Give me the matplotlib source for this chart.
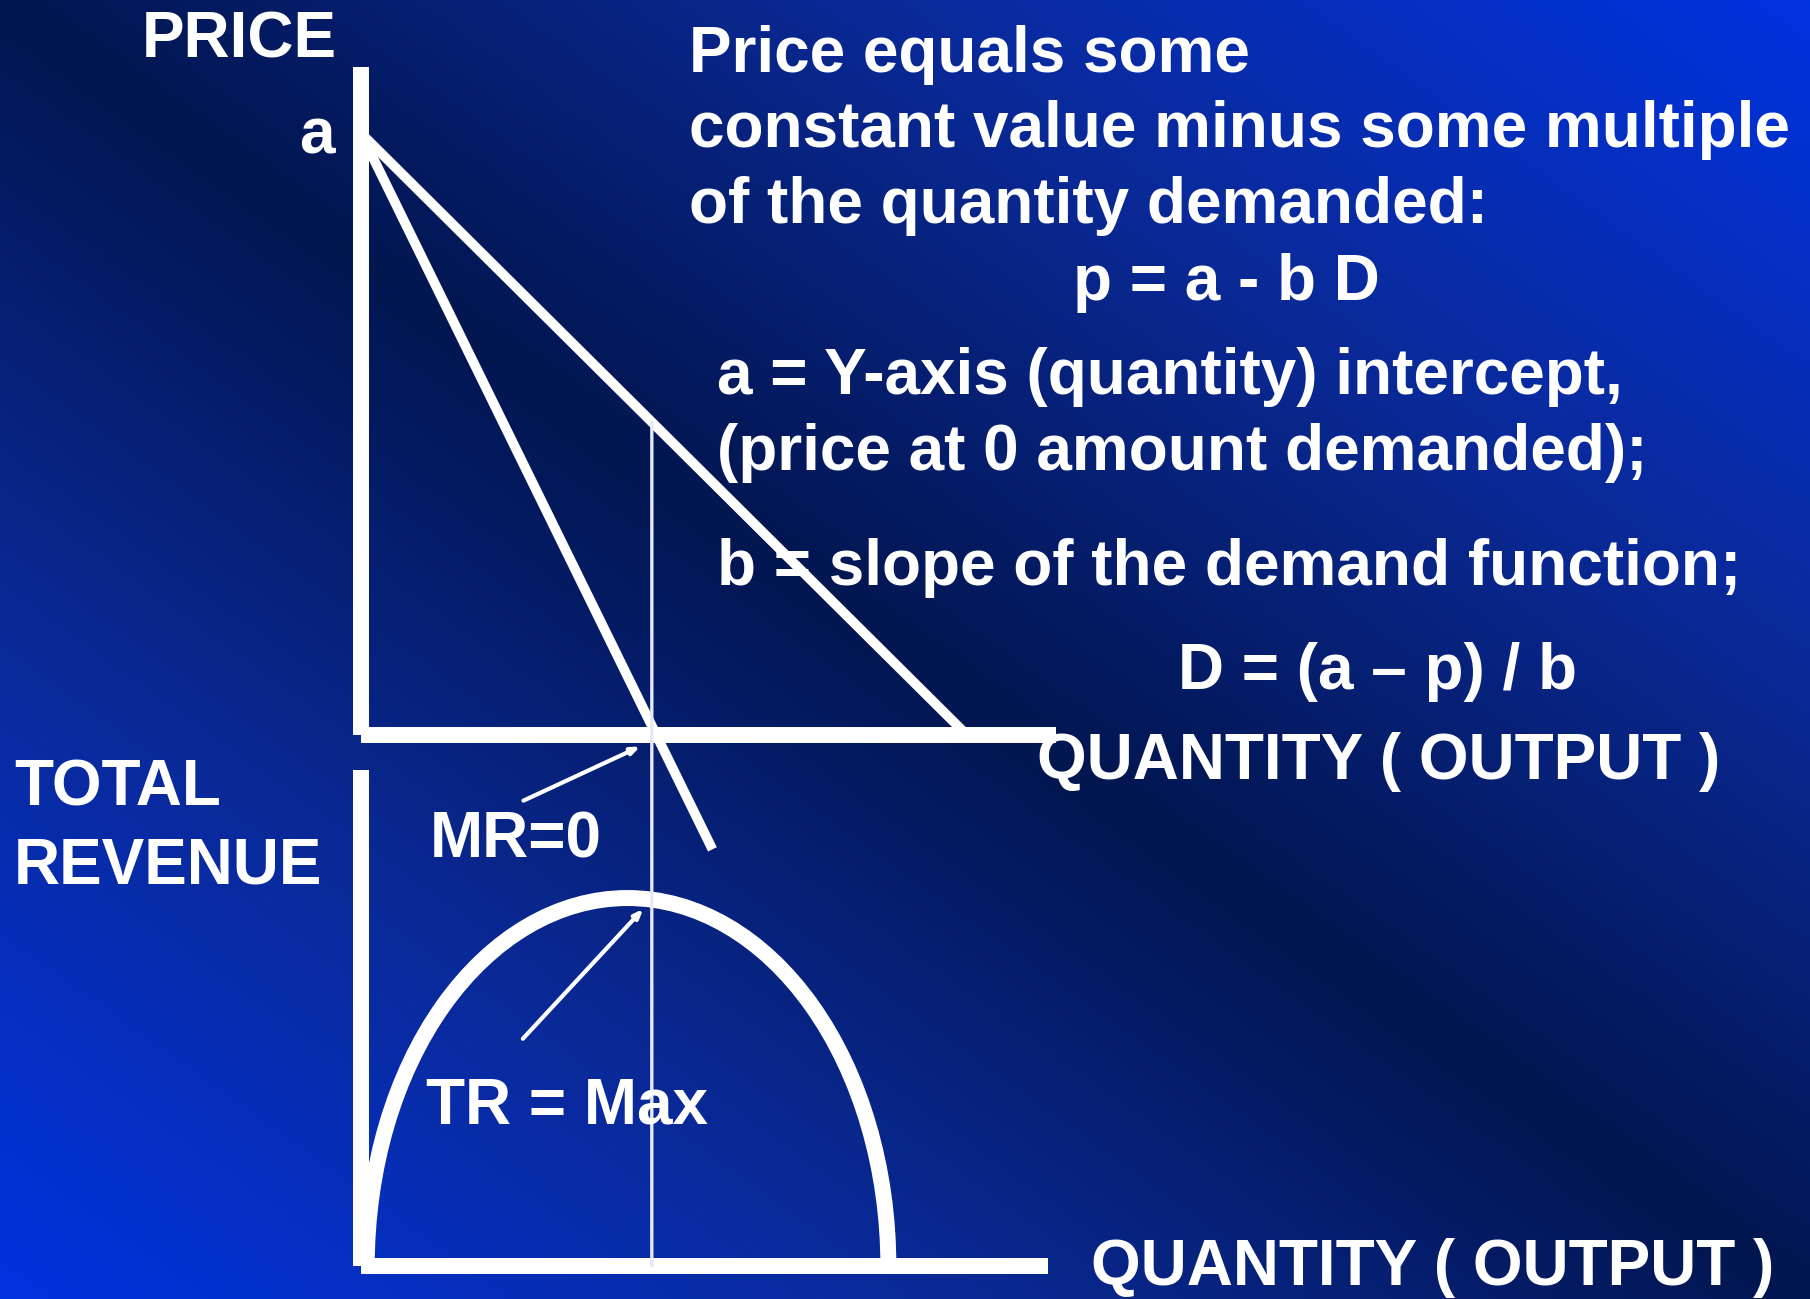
import numpy as np
import matplotlib
matplotlib.use("Agg")
import matplotlib.pyplot as plt
from matplotlib.colors import LinearSegmentedColormap
from matplotlib.patches import Arc, ConnectionPatch

W, H = 1810, 1299

# demand curve p = a - b D  (a = 10, b = 1)
demand_q = [0, 10]
demand_p = [10, 0]
# marginal revenue line, as drawn
mr_q = [0, 5.8]
mr_p = [10, -1.9]
# output where MR = 0 and the price there
q_star = 4.8
p_star = 5.2
# total revenue hump (half ellipse): centre, width, peak
tr_center = 4.4
tr_width = 8.61
tr_max = 25

# arrow ends (tail -> head)
mr_arrow_q = [2.64, 4.65]
mr_arrow_p = [-1.11, -0.17]
tr_arrow_q = [2.64, 4.69]
tr_arrow_tr = [15.3, 24.4]

right_lines = ["Price equals some",
               "constant value minus some multiple",
               "of the quantity demanded:"]
param_lines = ["a = Y-axis (quantity) intercept,",
               "(price at 0 amount demanded);"]


def px(x, y):
    return x / W, 1 - y / H


def box(l, t, r, b):
    return [l / W, 1 - b / H, (r - l) / W, (b - t) / H]


fig = plt.figure(figsize=(W / 100, H / 100), dpi=100)

# diagonal background gradient, dark along the main diagonal
bg = fig.add_axes([0, 0, 1, 1])
u, v = np.meshgrid(np.linspace(0, 1, 400), np.linspace(0, 1, 300))
t = np.abs(u - v)
cmap = LinearSegmentedColormap.from_list("bg", ["#021650", "#0a2a9a", "#0033e0"])
bg.imshow(t, cmap=cmap, extent=(0, 1, 0, 1), aspect="auto", origin="upper")
bg.axis("off")

wht = "white"


def style(ax):
    ax.patch.set_alpha(0)
    for s in ["top", "right"]:
        ax.spines[s].set_visible(False)
    for s in ["left", "bottom"]:
        ax.spines[s].set_color(wht)
        ax.spines[s].set_linewidth(11.5)
        ax.spines[s].set_capstyle("butt")
    ax.set_xticks([])
    ax.set_yticks([])


# price / quantity panel
ax1 = fig.add_axes(box(361, 67, 1056, 735))
style(ax1)
ax1.set_xlim(0, 11.47)
ax1.set_ylim(0, 11.1)
ax1.plot(demand_q, demand_p, color=wht, lw=7, solid_capstyle="butt", clip_on=False)
ax1.plot(mr_q, mr_p, color=wht, lw=7, solid_capstyle="butt", clip_on=False)
ax1.annotate("", xy=(mr_arrow_q[1], mr_arrow_p[1]), xytext=(mr_arrow_q[0], mr_arrow_p[0]),
             arrowprops=dict(arrowstyle="-|>,head_length=0.5,head_width=0.2",
                             color=wht, lw=3), annotation_clip=False)

# total revenue panel
ax2 = fig.add_axes(box(361, 770, 1048, 1266))
style(ax2)
ax2.set_xlim(0, 11.34)
ax2.set_ylim(0, 33.7)
ax2.add_patch(Arc((tr_center, 0), tr_width, 2 * tr_max, theta1=0, theta2=180,
                  color=wht, lw=11.5))
ax2.annotate("", xy=(tr_arrow_q[1], tr_arrow_tr[1]), xytext=(tr_arrow_q[0], tr_arrow_tr[0]),
             arrowprops=dict(arrowstyle="-|>,head_length=0.5,head_width=0.2",
                             color=wht, lw=3), annotation_clip=False)

# vertical guide at MR = 0 through both panels
con = ConnectionPatch(xyA=(q_star, p_star), coordsA=ax1.transData,
                      xyB=(q_star, 0), coordsB=ax2.transData,
                      color="#e6e8f2", lw=2.4)
fig.add_artist(con)

fkw = dict(color=wht, fontsize=46, fontweight="bold", family="Liberation Sans",
           va="baseline")


def txt(x, y, s, ha="left"):
    fig.text(*px(x, y), s, ha=ha, **fkw)


txt(337, 58, "PRICE", ha="right")
txt(335, 154, "a", ha="right")
for i, s in enumerate(right_lines):
    txt(689, 72 + 75.5 * i, s)
txt(1073, 300, "p = a - b D")
for i, s in enumerate(param_lines):
    txt(717, 394 + 76 * i, s)
txt(717, 585, "b = slope of the demand function;")
txt(1178, 689, "D = (a \u2013 p) / b")
txt(1037, 779, "QUANTITY ( OUTPUT )")
txt(14, 806, "TOTAL")
txt(14, 883, "REVENUE")
txt(430, 858, "MR=0")
txt(426, 1123, "TR = Max")
txt(1091, 1285, "QUANTITY ( OUTPUT )")

fig.savefig("out.png", dpi=100)
